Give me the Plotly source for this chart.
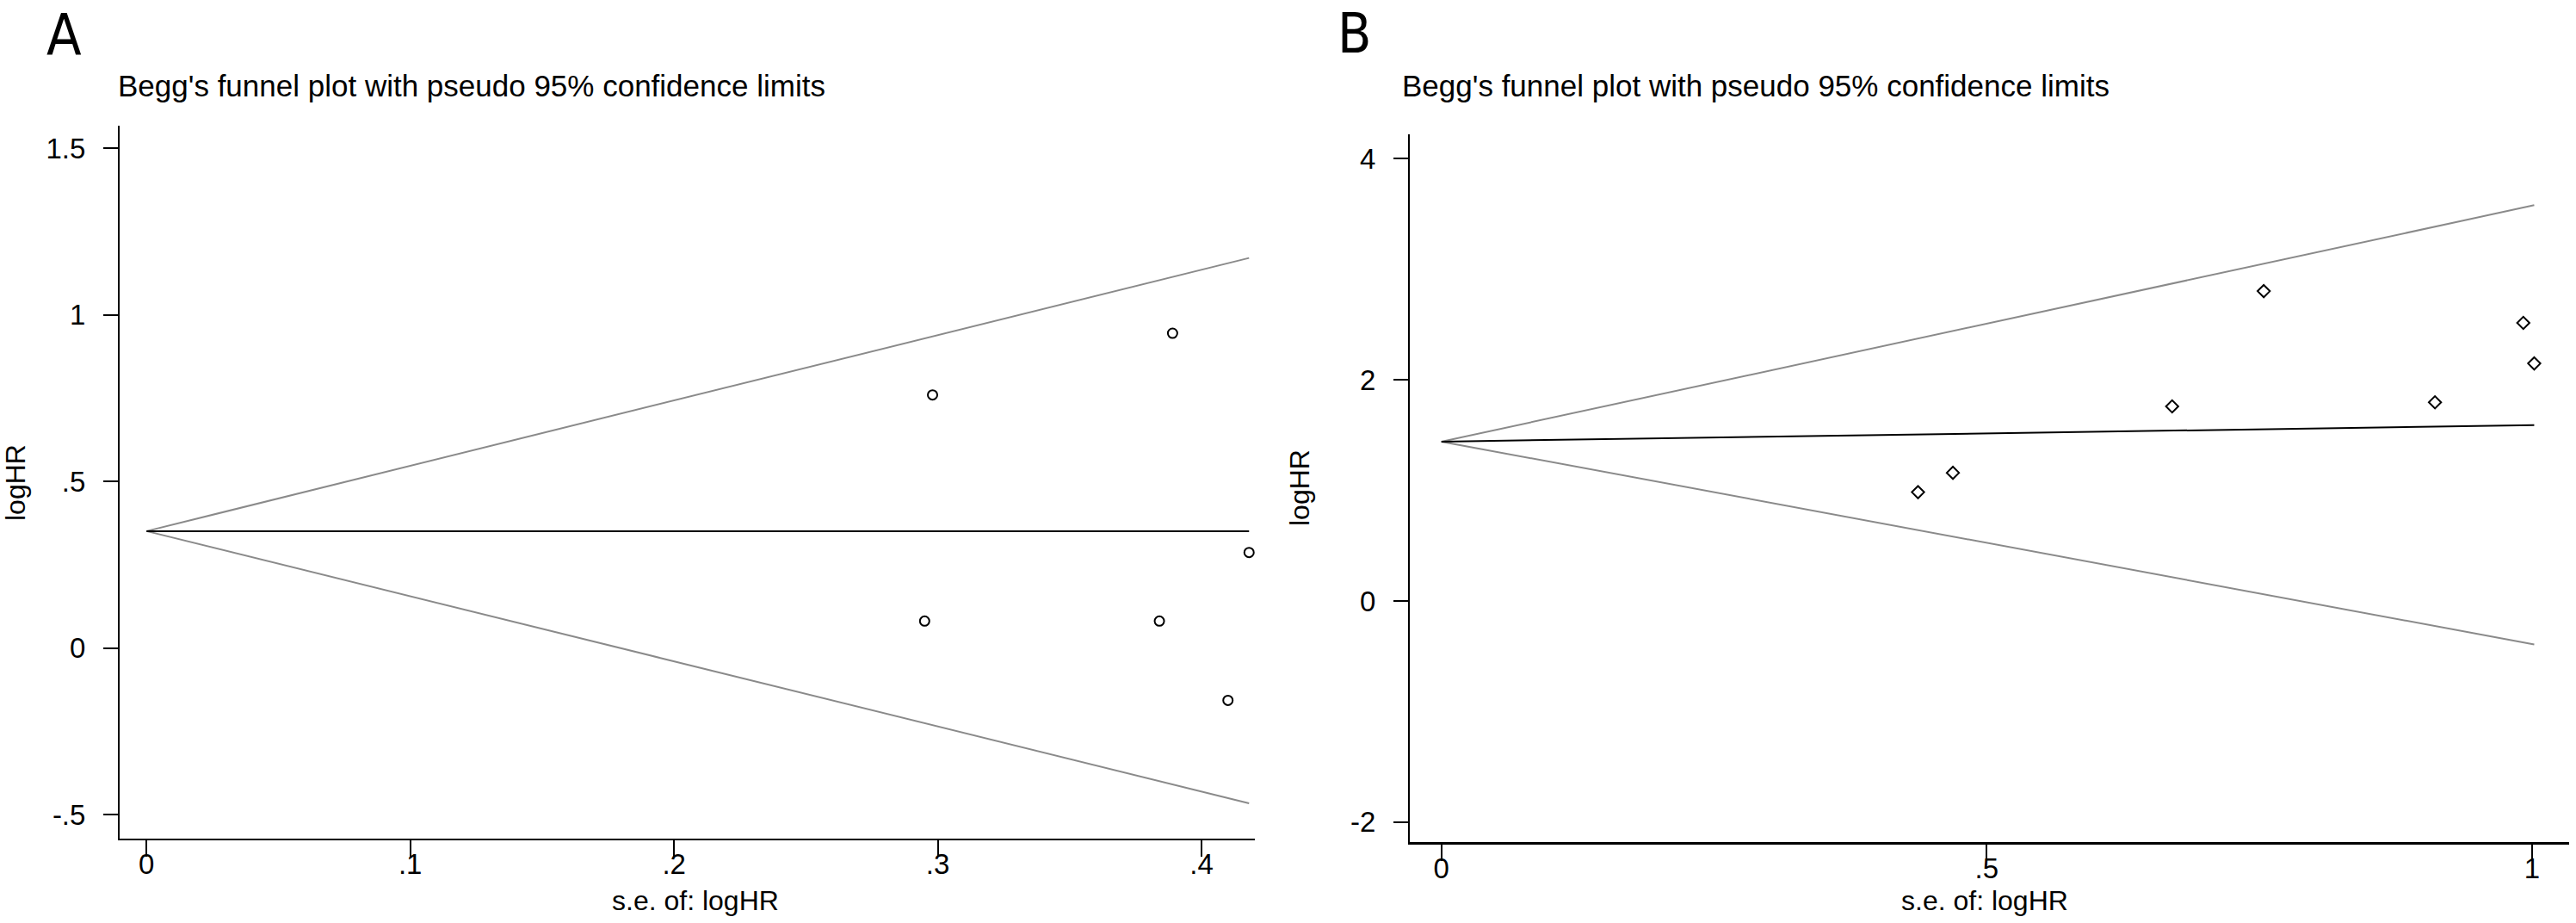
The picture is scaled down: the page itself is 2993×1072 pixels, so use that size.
import plotly.graph_objects as go

# Panel A data
se_a = [0.298, 0.389, 0.295, 0.384, 0.418, 0.410]
loghr_a = [0.760, 0.945, 0.081, 0.081, 0.287, -0.157]
funnel_se_a = [0, 0.418]
center_a = [0.351, 0.351]
upper_a = [0.351, 1.171]
lower_a = [0.351, -0.466]
xticks_a = [0, 0.1, 0.2, 0.3, 0.4]
xtick_text_a = ["0", ".1", ".2", ".3", ".4"]
yticks_a = [-0.5, 0, 0.5, 1, 1.5]
ytick_text_a = ["-.5", "0", ".5", "1", "1.5"]

# Panel B data
se_b = [0.437, 0.469, 0.670, 0.754, 0.911, 0.992, 1.002]
loghr_b = [0.984, 1.159, 1.760, 2.802, 1.797, 2.515, 2.148]
funnel_se_b = [0, 1.002]
center_b = [1.441, 1.590]
upper_b = [1.441, 3.579]
lower_b = [1.441, -0.393]
xticks_b = [0, 0.5, 1]
xtick_text_b = ["0", ".5", "1"]
yticks_b = [-2, 0, 2, 4]
ytick_text_b = ["-2", "0", "2", "4"]

TITLE = "Begg's funnel plot with pseudo 95% confidence limits"
W, H = 2993, 1072
FONT = "Liberation Sans, Arial, sans-serif"
LETTER_FONT = "Liberation Sans Narrow, Arial Narrow, DejaVu Sans Condensed, sans-serif"
GREY = "#8a8a8a"

fig = go.Figure()


def add_panel(se, loghr, fse, center, upper, lower, symbol, xa, ya):
    for ys, col in [(upper, GREY), (lower, GREY), (center, "black")]:
        fig.add_trace(go.Scatter(x=fse, y=ys, mode="lines", xaxis=xa, yaxis=ya,
                                 line=dict(color=col, width=2), showlegend=False,
                                 hoverinfo="skip"))
    fig.add_trace(go.Scatter(x=se, y=loghr, mode="markers", xaxis=xa, yaxis=ya,
                             marker=dict(symbol=symbol, size=11, color="black",
                                         line=dict(width=2, color="black")),
                             showlegend=False))


add_panel(se_a, loghr_a, funnel_se_a, center_a, upper_a, lower_a, "circle-open", "x", "y")
add_panel(se_b, loghr_b, funnel_se_b, center_b, upper_b, lower_b, "diamond-open", "x2", "y2")

axis_common = dict(showline=True, linecolor="black", ticks="outside",
                   tickwidth=2, tickcolor="black", showgrid=False, zeroline=False,
                   tickfont=dict(size=33, color="black", family=FONT))


def px_x(p):
    return p / W


def px_y(p):
    return 1 - p / H


fig.update_layout(
    width=W, height=H,
    margin=dict(l=0, r=0, t=0, b=0),
    paper_bgcolor="white", plot_bgcolor="white",
    font=dict(family=FONT, color="black"),
    xaxis=dict(domain=[px_x(139), px_x(1458)], range=[-0.0102, 0.4202], anchor="y",
               tickvals=xticks_a, ticktext=xtick_text_a, ticklen=19, linewidth=2,
               ticklabelstandoff=-20, **axis_common),
    yaxis=dict(domain=[px_y(974), px_y(146)], range=[-0.572, 1.568], anchor="x",
               tickvals=yticks_a, ticktext=ytick_text_a, ticklen=17, linewidth=2,
               ticklabelstandoff=14, **axis_common),
    xaxis2=dict(domain=[px_x(1638), px_x(2985)], range=[-0.029, 1.034], anchor="y2",
                tickvals=xticks_b, ticktext=xtick_text_b, ticklen=19, linewidth=3,
                ticklabelstandoff=-20, **axis_common),
    yaxis2=dict(domain=[px_y(978), px_y(156)], range=[-2.18, 4.22], anchor="x2",
                tickvals=yticks_b, ticktext=ytick_text_b, ticklen=17, linewidth=2,
                ticklabelstandoff=14, **axis_common),
)

annotations = [
    # panel letters
    dict(text="A", x=px_x(52), y=1, xanchor="left", yanchor="top",
         font=dict(size=66, family=LETTER_FONT)),
    dict(text="B", x=px_x(1552), y=1, xanchor="left", yanchor="top",
         font=dict(size=64, family=LETTER_FONT)),
    # titles
    dict(text=TITLE, x=px_x(135), y=px_y(100), xanchor="left", yanchor="middle",
         font=dict(size=35)),
    dict(text=TITLE, x=px_x(1627), y=px_y(100), xanchor="left", yanchor="middle",
         font=dict(size=35)),
    # axis titles
    dict(text="s.e. of: logHR", x=px_x(808), y=px_y(1046), xanchor="center", yanchor="middle",
         font=dict(size=32)),
    dict(text="s.e. of: logHR", x=px_x(2306), y=px_y(1046), xanchor="center", yanchor="middle",
         font=dict(size=32)),
    dict(text="logHR", x=px_x(18), y=px_y(561), textangle=-90, xanchor="center", yanchor="middle",
         font=dict(size=32)),
    dict(text="logHR", x=px_x(1510), y=px_y(567), textangle=-90, xanchor="center", yanchor="middle",
         font=dict(size=32)),
]
for a in annotations:
    a.update(xref="paper", yref="paper", showarrow=False)
    a["font"].setdefault("color", "black")
fig.update_layout(annotations=annotations)

fig.write_html("out.html", config={"displayModeBar": False},
               post_script="document.body.style.margin='0';")
